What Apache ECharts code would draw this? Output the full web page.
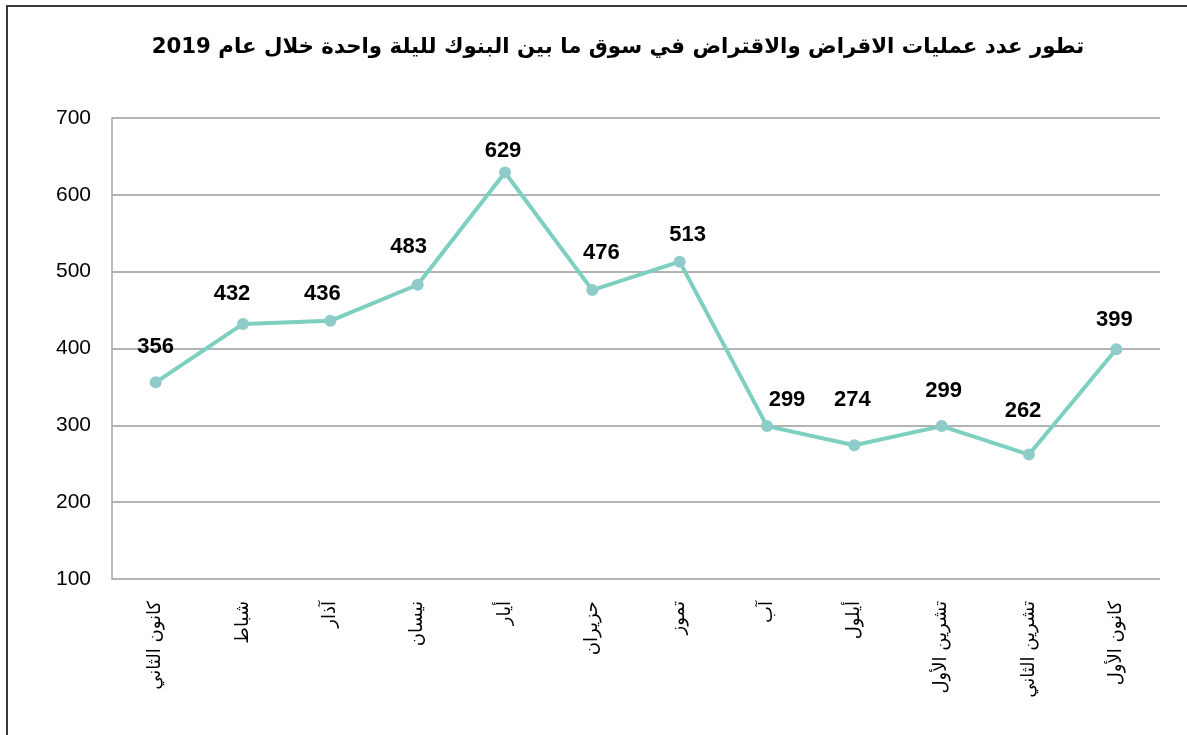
<!DOCTYPE html>
<html>
<head>
<meta charset="utf-8">
<script src="https://cdn.jsdelivr.net/npm/echarts@6/dist/echarts.min.js"></script>
<style>
html,body{margin:0;padding:0;background:#fff;}
#frame{position:absolute;left:6px;top:5px;width:1200px;height:760px;border-left:2px solid #3a3a3a;border-top:2px solid #3a3a3a;}
#chart{position:absolute;left:0;top:0;width:1187px;height:735px;}
</style>
</head>
<body>
<div id="frame"></div>
<div id="chart"></div>
<script>
const titleText = 'تطور عدد عمليات الاقراض والاقتراض في سوق ما بين البنوك لليلة واحدة خلال عام 2019';
const categories = ['كانون الثاني','شباط','آذار','نيسان','أيار','حزيران','تموز','آب','أيلول','تشرين الأول','تشرين الثاني','كانون الأول'];
const values = [356, 432, 436, 483, 629, 476, 513, 299, 274, 299, 262, 399];
const yMin = 100, yMax = 700, yStep = 100;
// label placement (style only): offsets of each value label from its point
const labelOffsets = [[0,-35],[-11,-30],[-8,-27],[-9,-38],[-2,-22],[9,-37],[8,-27],[20,-26],[-2,-45],[2,-35],[-6,-44],[-2,-29]];

const seriesData = values.map((v, i) => ({
  value: v,
  label: {offset: labelOffsets[i]}
}));

const numFont = 'Liberation Sans Narrow, Arial Narrow, Liberation Sans, sans-serif';

const chart = echarts.init(document.getElementById('chart'), null, {renderer:'canvas'});
chart.setOption({
  backgroundColor: 'transparent',
  animation: false,
  title: {
    text: titleText,
    left: 613, top: 32, textAlign: 'center',
    textStyle: {fontFamily: 'DejaVu Sans', fontWeight: 'bold', fontSize: 21.3, color: '#000'}
  },
  grid: {left: 112, right: 27, top: 118, bottom: 156},
  xAxis: {
    type: 'category',
    data: categories,
    boundaryGap: true,
    axisLine: {show: false},
    axisTick: {show: false},
    axisLabel: {rotate: 90, margin: 22, fontSize: 18, color: '#000', fontFamily: 'DejaVu Sans', interval: 0}
  },
  yAxis: {
    type: 'value',
    min: yMin, max: yMax, interval: yStep,
    axisLine: {show: true, lineStyle: {color: '#a6a6a6', width: 1.5}},
    axisTick: {show: false},
    axisLabel: {margin: 21, fontSize: 21, color: '#000', fontFamily: numFont},
    splitLine: {lineStyle: {color: '#9a9a9a', width: 1.5}}
  },
  series: [{
    type: 'line',
    data: seriesData,
    symbol: 'circle',
    symbolSize: 12,
    lineStyle: {color: '#7dcfbf', width: 4},
    itemStyle: {color: '#8ecbc9'},
    label: {
      show: true, position: 'inside',
      fontSize: 22, fontWeight: 'bold', color: '#000',
      fontFamily: numFont
    }
  }]
});
</script>
</body>
</html>
